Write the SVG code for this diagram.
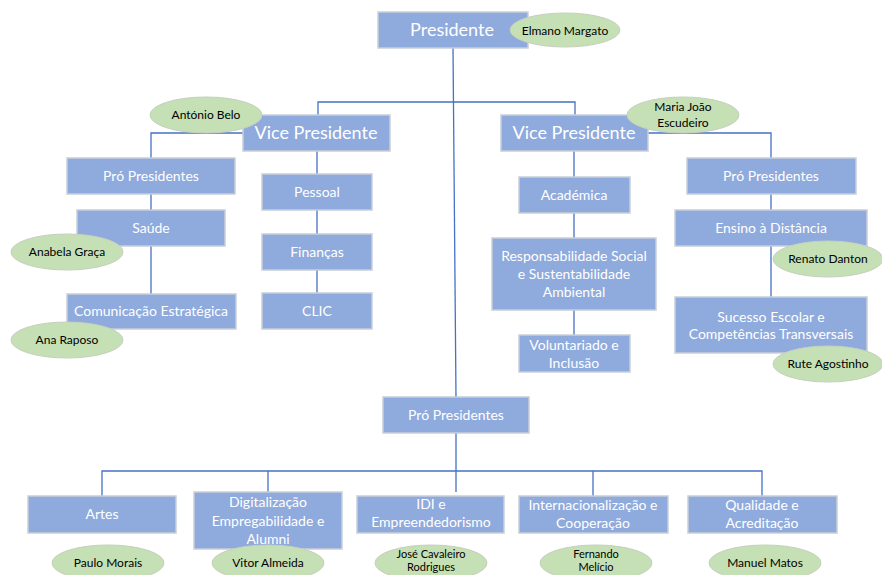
<svg xmlns="http://www.w3.org/2000/svg" width="882" height="575" viewBox="0 0 882 575">
<style>
.bx{fill:#8FAADC;stroke:#C9CED8;stroke-width:1.5}
.el{fill:#C5E0B4;stroke:#C7CFC0;stroke-width:1}
.t{font-family:Lato,"Liberation Sans",sans-serif;fill:#FFFFFF;font-size:14px;text-anchor:middle;dominant-baseline:central}
.tb{font-size:18px}
.n{font-family:Lato,"Liberation Sans",sans-serif;fill:#000000;font-size:12px;text-anchor:middle;dominant-baseline:central}
.s{font-size:11px}
.c{fill:none;stroke:#4472C4;stroke-width:1.3}
</style>
<rect width="882" height="575" fill="#FFFFFF"/>
<g id="connectors">
<path class="c" d="M453 48 L456 397"/>
<path class="c" d="M318 115 V102 H575 V115"/>
<path class="c" d="M243 133 H151 V158 M151 194 V210 M151 246 V294"/>
<path class="c" d="M317 151 V174 M317 210 V234 M317 270 V293"/>
<path class="c" d="M648 133 H771 V158 M771 194 V210 M771 246 V297"/>
<path class="c" d="M574 151 V177 M574 213 V238 M574 310 V335"/>
<path class="c" d="M102 496 V471 H762 V496 M268 471 V492 M593 471 V496 M456 433 V492"/>
</g>
<g id="presidente"><rect class="bx" x="378" y="12" width="150" height="36"/><text class="t tb" x="452" y="29">Presidente</text></g>
<g id="vp-left"><rect class="bx" x="243" y="115" width="147" height="36"/><text class="t tb" x="316" y="132">Vice Presidente</text></g>
<g id="vp-right"><rect class="bx" x="501" y="115" width="147" height="36"/><text class="t tb" x="574" y="132">Vice Presidente</text></g>
<g id="pp-left"><rect class="bx" x="67" y="158" width="168" height="36"/><text class="t" x="151" y="175">Pró Presidentes</text></g>
<g id="saude"><rect class="bx" x="77" y="210" width="148" height="36"/><text class="t" x="151" y="227">Saúde</text></g>
<g id="comunicacao"><rect class="bx" x="67" y="294" width="169" height="35"/><text class="t" x="151" y="310">Comunicação Estratégica</text></g>
<g id="pessoal"><rect class="bx" x="262" y="174" width="110" height="36"/><text class="t" x="317" y="191">Pessoal</text></g>
<g id="financas"><rect class="bx" x="262" y="234" width="110" height="36"/><text class="t" x="317" y="251">Finanças</text></g>
<g id="clic"><rect class="bx" x="262" y="293" width="110" height="36"/><text class="t" x="317" y="310">CLIC</text></g>
<g id="academica"><rect class="bx" x="519" y="177" width="111" height="36"/><text class="t" x="574" y="194">Académica</text></g>
<g id="responsabilidade"><rect class="bx" x="492" y="238" width="164" height="72"/><text class="t" x="574" y="255">Responsabilidade Social</text><text class="t" x="574" y="273">e Sustentabilidade</text><text class="t" x="574" y="291">Ambiental</text></g>
<g id="voluntariado"><rect class="bx" x="519" y="335" width="111" height="37"/><text class="t" x="574" y="344">Voluntariado e</text><text class="t" x="574" y="362">Inclusão</text></g>
<g id="pp-right"><rect class="bx" x="687" y="158" width="169" height="36"/><text class="t" x="771" y="175">Pró Presidentes</text></g>
<g id="ensino"><rect class="bx" x="675" y="210" width="192" height="36"/><text class="t" x="771" y="227">Ensino à Distância</text></g>
<g id="sucesso"><rect class="bx" x="675" y="297" width="192" height="56"/><text class="t" x="771" y="316">Sucesso Escolar e</text><text class="t" x="771" y="333">Competências Transversais</text></g>
<g id="pp-bottom"><rect class="bx" x="383" y="397" width="146" height="36"/><text class="t" x="456" y="414">Pró Presidentes</text></g>
<g id="artes"><rect class="bx" x="28" y="496" width="148" height="37"/><text class="t" x="102" y="513">Artes</text></g>
<g id="digitalizacao"><rect class="bx" x="194" y="492" width="148" height="57"/><text class="t" x="268" y="501">Digitalização</text><text class="t" x="268" y="520">Empregabilidade e</text><text class="t" x="268" y="538">Alumni</text></g>
<g id="idi"><rect class="bx" x="357" y="496" width="147" height="37"/><text class="t" x="431" y="503">IDI e</text><text class="t" x="431" y="521">Empreendedorismo</text></g>
<g id="internacionalizacao"><rect class="bx" x="519" y="496" width="149" height="37"/><text class="t" x="593" y="504">Internacionalização e</text><text class="t" x="593" y="522">Cooperação</text></g>
<g id="qualidade"><rect class="bx" x="688" y="496" width="149" height="37"/><text class="t" x="762" y="504">Qualidade e</text><text class="t" x="762" y="522">Acreditação</text></g>
<g id="p-elmano"><ellipse class="el" cx="565" cy="30" rx="55" ry="17"/><text class="n" x="565" y="30">Elmano Margato</text></g>
<g id="p-antonio"><ellipse class="el" cx="206" cy="115" rx="56" ry="18"/><text class="n" x="206" y="114">António Belo</text></g>
<g id="p-maria"><ellipse class="el" cx="683" cy="115" rx="56" ry="18"/><text class="n" x="683" y="106">Maria João</text><text class="n" x="683" y="122">Escudeiro</text></g>
<g id="p-anabela"><ellipse class="el" cx="67" cy="252" rx="56" ry="18"/><text class="n" x="67" y="251">Anabela Graça</text></g>
<g id="p-ana"><ellipse class="el" cx="67" cy="340" rx="56" ry="18"/><text class="n" x="67" y="339">Ana Raposo</text></g>
<g id="p-renato"><ellipse class="el" cx="828" cy="259" rx="55" ry="18"/><text class="n" x="828" y="258">Renato Danton</text></g>
<g id="p-rute"><ellipse class="el" cx="828" cy="364" rx="55" ry="18"/><text class="n" x="828" y="363">Rute Agostinho</text></g>
<g id="p-paulo"><ellipse class="el" cx="108" cy="563" rx="56" ry="18"/><text class="n" x="108" y="562">Paulo Morais</text></g>
<g id="p-vitor"><ellipse class="el" cx="268" cy="563" rx="56" ry="18"/><text class="n" x="268" y="562">Vitor Almeida</text></g>
<g id="p-jose"><ellipse class="el" cx="431" cy="563" rx="56" ry="18"/><text class="n s" x="431" y="553">José Cavaleiro</text><text class="n s" x="431" y="566">Rodrigues</text></g>
<g id="p-fernando"><ellipse class="el" cx="596" cy="563" rx="56" ry="18"/><text class="n s" x="596" y="553">Fernando</text><text class="n s" x="596" y="566">Melício</text></g>
<g id="p-manuel"><ellipse class="el" cx="765" cy="563" rx="56" ry="18"/><text class="n" x="765" y="562">Manuel Matos</text></g>
</svg>
